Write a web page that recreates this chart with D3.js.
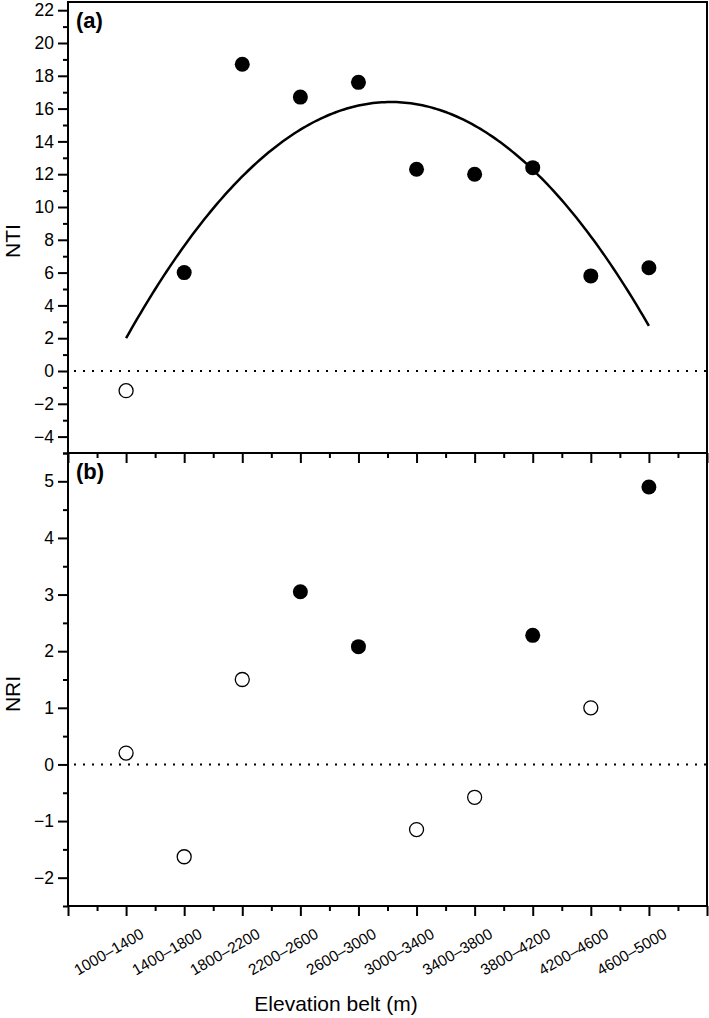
<!DOCTYPE html>
<html>
<head>
<meta charset="utf-8">
<script src="https://cdn.jsdelivr.net/npm/d3@7"></script>
<style>
  body { margin: 0; background: #fff; }
  text { font-family: Arial, "Liberation Sans", sans-serif; fill: #000; }
</style>
</head>
<body>
<svg id="svg1" width="709" height="1018"></svg>
<script>
// elevation belts (x categories)
var belts = ['1000–1400', '1400–1800', '1800–2200', '2200–2600', '2600–3000',
             '3000–3400', '3400–3800', '3800–4200', '4200–4600', '4600–5000'];

// panel (a) NTI values and whether filled
var ntiValues = [-1.2, 6.0, 18.7, 16.7, 17.6, 12.3, 12.0, 12.4, 5.8, 6.3];
var ntiFilled = [false, true, true, true, true, true, true, true, true, true];

// quadratic fit for NTI: c0 + c1*x + c2*x^2 (x = belt index 1..10)
var ntiFit = [-5.01, 7.702, -0.6926];

// panel (b) NRI values and whether filled
var nriValues = [0.2, -1.63, 1.5, 3.05, 2.08, -1.15, -0.58, 2.28, 1.0, 4.9];
var nriFilled = [false, false, false, true, true, false, false, true, false, true];

// tick labels
var ntiTicks = [-4, -2, 0, 2, 4, 6, 8, 10, 12, 14, 16, 18, 20, 22];
var nriTicks = [-2, -1, 0, 1, 2, 3, 4, 5];

var svg = d3.select('#svg1');

var left = 68, right = 707;
var aTop = 2, aBottom = 453, bBottom = 906;

var x = d3.scaleLinear().domain([0, 11]).range([left, right]);
var yA = d3.scaleLinear().domain([-5, 22.5]).range([aBottom, aTop]);
var yB = d3.scaleLinear().domain([-2.5, 5.5]).range([bBottom, aBottom]);

var xMajor = d3.range(0, 12);
var xMinor = d3.range(0.5, 11, 1);

function drawPanel(y, values, filled, ticks, minorTicks, bottom, top, label, title, titleY) {
    var g = svg.append('g');

    // frame
    g.append('rect')
        .attr('x', left).attr('y', top)
        .attr('width', right - left).attr('height', bottom - top)
        .attr('fill', 'none').attr('stroke', '#000').attr('stroke-width', 2);

    // zero line (dotted)
    g.append('line')
        .attr('x1', left + 6).attr('x2', right)
        .attr('y1', y(0)).attr('y2', y(0))
        .attr('stroke', '#000').attr('stroke-width', 2)
        .attr('stroke-dasharray', '2,7');

    // y axis
    var yAxis = g.append('g').attr('transform', 'translate(' + left + ',0)')
        .call(d3.axisLeft(y).tickValues(ticks).tickSize(10).tickPadding(4)
              .tickFormat(function(d) { return d < 0 ? '−' + Math.abs(d) : d; }));
    yAxis.select('.domain').remove();
    yAxis.selectAll('line').attr('stroke-width', 2);
    yAxis.selectAll('text').style('font-size', '17.5px').style('font-family', 'Arial, "Liberation Sans", sans-serif');

    var yMin = g.append('g').attr('transform', 'translate(' + left + ',0)')
        .call(d3.axisLeft(y).tickValues(minorTicks).tickSize(5).tickFormat(''));
    yMin.select('.domain').remove();
    yMin.selectAll('line').attr('stroke-width', 2);

    // x ticks at bottom (outward)
    var xAx = g.append('g').attr('transform', 'translate(0,' + bottom + ')')
        .call(d3.axisBottom(x).tickValues(xMajor).tickSize(10).tickFormat(''));
    xAx.select('.domain').remove();
    xAx.selectAll('line').attr('stroke-width', 2);
    var xMin = g.append('g').attr('transform', 'translate(0,' + bottom + ')')
        .call(d3.axisBottom(x).tickValues(xMinor).tickSize(5).tickFormat(''));
    xMin.select('.domain').remove();
    xMin.selectAll('line').attr('stroke-width', 2);

    // points
    g.selectAll('circle.pt')
        .data(values)
        .enter().append('circle')
        .attr('class', 'pt')
        .attr('cx', function(d, i) { return x(i + 1); })
        .attr('cy', function(d) { return y(d); })
        .attr('r', function(d, i) { return filled[i] ? 7.5 : 7; })
        .attr('fill', function(d, i) { return filled[i] ? '#000' : '#fff'; })
        .attr('stroke', '#000')
        .attr('stroke-width', function(d, i) { return filled[i] ? 0 : 1.3; });

    // panel label
    g.append('text')
        .attr('x', 76).attr('y', top + 26)
        .style('font-size', '22px').style('font-weight', 'bold')
        .text(label);

    // y title
    g.append('text')
        .attr('transform', 'translate(20,' + titleY + ') rotate(-90)')
        .attr('text-anchor', 'middle')
        .style('font-size', '21px')
        .text(title);

    return g;
}

var gA = drawPanel(yA, ntiValues, ntiFilled, ntiTicks, d3.range(-5, 23, 1).filter(function(d) { return d % 2 !== 0; }),
                   aBottom, aTop, '(a)', 'NTI', 241);

// fitted curve
var curvePts = d3.range(1, 10.001, 0.05).map(function(t) {
    return [t, ntiFit[0] + ntiFit[1] * t + ntiFit[2] * t * t];
});
gA.append('path')
    .datum(curvePts)
    .attr('fill', 'none').attr('stroke', '#000').attr('stroke-width', 2.5)
    .attr('d', d3.line().x(function(d) { return x(d[0]); }).y(function(d) { return yA(d[1]); }));

drawPanel(yB, nriValues, nriFilled, nriTicks, d3.range(-2.5, 5.6, 1),
          bBottom, aBottom, '(b)', 'NRI', 694);

// x tick labels (rotated)
svg.append('g').selectAll('text')
    .data(belts)
    .enter().append('text')
    .attr('text-anchor', 'end')
    .attr('transform', function(d, i) { return 'translate(' + (x(i + 1) + 19) + ',937) rotate(-30)'; })
    .style('font-size', '15.5px')
    .text(function(d) { return d; });

// x title
svg.append('text')
    .attr('x', 336).attr('y', 1011)
    .attr('text-anchor', 'middle')
    .style('font-size', '21px')
    .text('Elevation belt (m)');
</script>
</body>
</html>
